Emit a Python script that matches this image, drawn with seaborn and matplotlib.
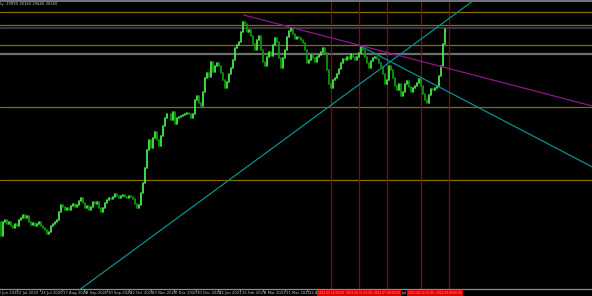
import matplotlib
matplotlib.use("Agg")
import matplotlib.pyplot as plt
import matplotlib.transforms as mtransforms
from matplotlib.patches import Rectangle
import pandas as pd
import seaborn as sns

# ---------------- data ----------------
first_open = 22830
closes = [
    22300, 22830, 22910, 22760, 22830, 22680, 22610, 22760, 22680, 22910,
    22990, 23100, 22990, 23060, 22830, 22720, 22800, 22680, 22760, 22830,
    22680, 22610, 22530, 22380, 22450, 22680, 22760, 22830, 22910, 23210,
    23480, 23400, 23290, 23370, 23290, 23440, 23520, 23400, 23480, 23630,
    23750, 23560, 23370, 23440, 23290, 23400, 23590, 23520, 23590, 23370,
    23210, 23370, 23560, 23670, 23750, 23710, 23780, 23900, 23820, 23750,
    23820, 23860, 23780, 23750, 23820, 23780, 23710, 23520, 23370, 23480,
    23940, 24320, 24890, 25570, 25950, 25650, 26030, 26250, 25950, 25720,
    26100, 26480, 26790, 26940, 26940, 26710, 27010, 26560, 26790, 26820,
    26860, 26900, 26940, 26980, 26940, 26790, 26940, 27470, 27620, 27360,
    27240, 27770, 28310, 28500, 28340, 28910, 28530, 28760, 28880, 28760,
    28500, 28230, 27930, 28150, 28460, 28690, 28990, 29450, 29560, 29670,
    30050, 30430, 30360, 30050, 30130, 29900, 29600, 29370, 29750, 29900,
    29370, 28910, 28760, 29100, 29290, 29140, 29560, 29830, 29670, 29070,
    28690, 29070, 29370, 29860, 30090, 30210, 29980, 29790, 29860, 29830,
    29750, 29640, 29370, 28880, 28990, 29180, 29070, 28910, 29100, 29180,
    29290, 29450, 29260, 28610, 28080, 27930, 28230, 28310, 28460, 28650,
    28880, 29030, 28990, 29100, 29030, 29220, 29100, 28990, 29100, 29260,
    29480, 29370, 29100, 28880, 28690, 28950, 29070, 29100, 29030, 28880,
    28720, 28460, 28080, 28230, 28760, 28610, 28310, 28000, 27850, 28080,
    27620, 27770, 28080, 28190, 27960, 27770, 27930, 28000, 28120, 28270,
    28000, 27700, 27470, 27360, 27660, 27890, 27850, 27930, 28000, 28380,
    28760, 29600, 30160,
]

gold_levels = [30810, 30320, 29560, 27200, 24430]
grey_levels = [30210, 29220]

# visible time-axis labels and their slot index (16 bars per slot)
date_labels = ["10 Jun 2020", "2 Jul 2020", "24 Jul 2020", "17 Aug 2020", "8 Sep 2020",
               "30 Sep 2020", "22 Oct 2020", "13 Nov 2020", "7 Dec 2020", "30 Dec 2020",
               "22 Jan 2021", "15 Feb 2021", "9 Mar 2021", "31 Mar 2021", "22 Apr 2021",
               "1 Jul 2021"]
date_slots = [-1, 0, 1, 2, 3, 4, 5, 6, 7, 8, 9, 10, 11, 12, 13, 17]

vline_bars = [165, 179, 193, 210, 224]
vline_labels = ["2021.05.14 00:00", "2021.06.11 00:00", "2021.07.09 00:00",
                "2021.08.12 00:00", "2021.09.09 00:00"]

# trend lines (bar index, price)
up_trend = [(40, 20288), (230, 30890)]
down_trend = [(180, 29520), (296, 24920)]
magenta_trend = [(121.5, 30700), (296, 27240)]

header = "Daily  29990 30160 29440 30160"

# ---------------- build long table for seaborn ----------------
opens = [first_open] + closes[:-1]
rows = []
for i, (o, c) in enumerate(zip(opens, closes)):
    d = "up" if c >= o else "down"
    rows.append({"bar": i, "price": o, "dir": d})
    rows.append({"bar": i, "price": c, "dir": d})
df = pd.DataFrame(rows)

# ---------------- figure ----------------
sns.set_style("dark", {"axes.facecolor": "black", "figure.facecolor": "black"})
plt.rcParams["font.family"] = ["Liberation Sans Narrow", "DejaVu Sans"]

W, H = 592, 296
fig = plt.figure(figsize=(W / 100, H / 100), dpi=100, facecolor="black")
ax = fig.add_axes([0, 7 / H, 1, 288 / H])
ax.set_facecolor("black")

ax.set_xlim(-0.3, 295.7)
ax.set_ylim(20288, 31232)

# horizontal levels
for lv in gold_levels:
    ax.axhline(lv, color="#8a6c00", lw=0.9, zorder=1)
ax.axhline(grey_levels[0], color="#3c3c48", lw=1.3, zorder=1)
ax.axhline(grey_levels[1], color="#6e6e6e", lw=1.6, zorder=1)

# vertical red lines
for b in vline_bars:
    ax.axvline(b, color="#a00000", lw=0.9, zorder=1)

# candles via seaborn
sns.lineplot(data=df, x="bar", y="price", units="bar", estimator=None, hue="dir",
             palette={"up": "#4cf04c", "down": "#08a008"}, legend=False,
             linewidth=1.25, sort=False, ax=ax, zorder=3)

# trend lines
ax.axline(up_trend[0], up_trend[1], color="#0b8f8f", lw=0.9, zorder=4)
ax.plot([down_trend[0][0], down_trend[1][0]], [down_trend[0][1], down_trend[1][1]],
        color="#0b8f8f", lw=0.9, zorder=4)
ax.plot([magenta_trend[0][0], magenta_trend[1][0]],
        [magenta_trend[0][1], magenta_trend[1][1]], color="#8e168e", lw=0.9, zorder=4)

# axes styling
ax.set_xticks([])
ax.set_yticks([])
ax.set_xlabel("")
ax.set_ylabel("")
for s in ["left", "right"]:
    ax.spines[s].set_visible(False)
ax.spines["bottom"].set_color("#8c8c8c")
ax.spines["bottom"].set_linewidth(0.9)
ax.spines["top"].set_color("#8c8c8c")
ax.spines["top"].set_linewidth(1.2)
ax.grid(False)

# date labels (bar units: 2 px per bar)
trans = mtransforms.blended_transform_factory(ax.transData, ax.transAxes)
for slot, lab in zip(date_slots, date_labels):
    xpos = (18 + 22.3 * slot) / 2.0
    ax.text(xpos, -0.006, lab, transform=trans, ha="left", va="top",
            fontsize=2.7, color="#c8c8c8", clip_on=False)
    ax.plot([xpos - 0.6, xpos - 0.6], [0, -0.008], transform=trans, color="#8c8c8c",
            lw=0.6, clip_on=False)

# red boxes for vertical line labels
for b, lab in zip(vline_bars, vline_labels):
    r = Rectangle((b - 7, -0.0255), 14, 0.022, transform=trans, facecolor="#e00000",
                  edgecolor="none", clip_on=False, zorder=6)
    ax.add_patch(r)
    ax.text(b, -0.0145, lab, transform=trans, ha="center", va="center",
            fontsize=2.1, color="#ff9a9a", clip_on=False, zorder=7)

# header text
fig.text(-6 / W, 1 - 4 / H, header, ha="left", va="center", fontsize=2.7,
         color="#c8c8c8")

fig.savefig("out.png", dpi=100, facecolor="black")
